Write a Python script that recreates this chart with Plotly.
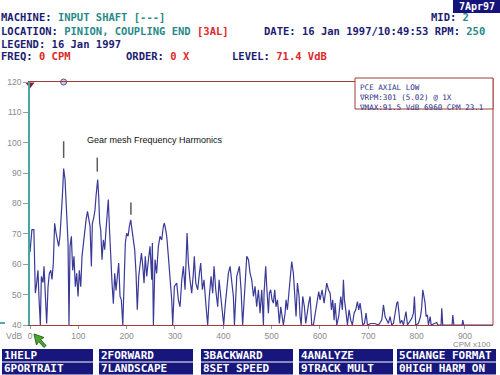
import plotly.graph_objects as go

# ---------------- data (CPM x100, VdB) ----------------
freq_a = [0, 2.5, 4, 8, 9, 10, 11, 13, 16.5, 18.5, 21.4, 23.5, 27, 29, 32, 34.5, 37.3, 40, 43, 45.5,
          48.3, 51, 54, 56.6, 59.3, 62, 65, 67, 68.3, 69.6, 72.5, 74.5, 76.6, 78.7, 80.7, 82.8, 85.6, 88.3, 91, 93.8,
          96.6, 99.4, 102, 105, 107.6, 110.4, 113, 116, 119, 121.5, 124.2, 127, 129, 131.8, 134.5, 136.6, 138.7, 140, 142.1, 144.2,
          146.3, 149, 151.8, 154.6, 157.3, 160, 162, 164.2, 167, 169.7, 172.5, 175.3, 178, 181, 183.5, 186.3, 189, 192, 194.6, 197.3,
          200, 203, 205.6, 208.4, 211, 214, 216.6, 219.4, 222, 225, 228, 230.6, 233.4, 236, 238.5, 241.5]
level_a = [64.0, 70.5, 71.4, 71.4, 63.7, 55, 50.5, 52.6, 58, 49.4, 40, 56, 54, 59.3, 49.4, 40.5, 52.6, 57, 58, 55,
           60.4, 73.5, 70.2, 68, 65.9, 69.2, 75.8, 82.4, 86.8, 91.5, 87.9, 81.3, 72.5, 67, 40, 65.9, 69.2, 58, 62.6, 52.6,
           57, 49.4, 58, 52.6, 62.6, 67, 71.4, 74.6, 77.4, 74.6, 72.5, 59.3, 73.5, 75.2, 77.9, 82.4, 86.8, 87.9, 82.4, 73.5,
           71.4, 61.5, 68, 64.8, 71.4, 78, 81.3, 72.5, 60.4, 53.8, 47, 57, 51.4, 55.8, 60.4, 49.4, 48.3, 40, 53.8, 67,
           70.2, 69.2, 72.5, 74.6, 71.4, 68, 64.8, 57, 45, 56, 60.4, 63.7, 59.3, 53.8, 62.6, 56]

freq_b = [245, 248.4, 251.8, 253.2, 255.3, 258.7, 262, 265.6, 269, 272.5, 276, 278, 280.8, 282.9, 286.3, 289.8, 293.2, 295.3, 298.7, 303.6,
          307, 310.5, 314, 317.4, 320.8, 325, 327.7, 331, 334.6, 338, 340, 343, 347, 350.5, 353.2, 356.7, 360, 364.3, 367.7, 370.5,
          374.6, 378, 380.8, 384.3, 388.4, 391.2, 395.3, 398.8, 400.8, 403.6, 407, 410.5, 414, 417.4, 420.8, 423, 427.8, 433.3, 436.7, 440,
          445, 448.5, 452, 455.4, 458.8, 462.3, 465.7, 469, 472.6, 476, 479.5, 483]
level_b = [61.5, 65.9, 54.9, 67, 40, 61.5, 57, 65.9, 69.2, 68, 72.5, 73.5, 71.4, 69.2, 62.6, 56, 48.3, 40, 52.7, 53.8,
           48.3, 46, 54.9, 59.3, 51.6, 70.3, 60.4, 54.9, 50.5, 57, 62.6, 53.8, 51.6, 57, 60.4, 51.6, 54.9, 46, 40, 48.3,
           56, 50.5, 59.3, 51.6, 46, 54.9, 49.4, 42.8, 40, 46, 51.6, 57, 59.3, 54.9, 49.4, 40, 56, 59.3, 51.6, 40,
           54.9, 62.6, 61.5, 57, 54.9, 49.4, 52.7, 46, 51.6, 43.9, 51.6, 40]

freq_c = [484.3, 487.7, 489.8, 493.3, 495.3, 498, 500.8, 503.6, 506.4, 509, 512, 514, 516, 518.8, 521.5, 524.3, 527.8, 529.8, 532.6, 535.3,
          538, 541.5, 545, 547.8, 550.5, 553.3, 556.7, 558.8, 561, 564.3, 567.8, 570.5, 574, 576.7, 579.5, 583, 586.4, 592, 594.7, 597.4,
          600.2, 604.3, 608.5, 612, 614, 617.5, 621, 623.7, 626.4, 629.2, 631.3, 634.7, 638.8, 643, 646.4, 648.5, 650.6, 653.3, 656.8, 660.2,
          663.7, 667, 670.6, 674, 677.5, 680.2, 683, 685.8, 688.5, 692, 695.4, 698.2]
level_c = [50.5, 59.3, 52.7, 43.9, 50.5, 51.6, 48.3, 47.2, 51.6, 46, 48.3, 43.9, 40.5, 46, 42.8, 40, 43.9, 48.3, 45, 50.5,
           56, 60.9, 57, 48.3, 42.8, 53.8, 49.4, 42.8, 40, 49.4, 46, 40.5, 45, 47.2, 49.4, 40, 40, 45, 48.3, 51,
           48.3, 51.6, 47.2, 52.7, 53.8, 51.6, 50.5, 45, 48.3, 41.6, 47.2, 40, 42.8, 49.4, 45, 54.9, 48.3, 45, 40, 45,
           41.6, 40, 43.9, 45, 47.7, 45, 47.2, 43.9, 40, 40.5, 43.9, 40]

freq_d = [705, 714, 721, 727.8, 731.3, 734.7, 738, 741.6, 745, 748.5, 752, 755.4, 758.9, 761, 763.7, 765.8, 769.2, 772.7, 776, 778,
          781, 786.5, 790, 793.4, 795.4, 798.2, 803.7, 808, 810.6, 812.7, 815.4, 817.5, 819.6, 822.3, 824.4, 828, 830, 841.7, 843.7, 850.6,
          852, 854, 873.4, 874.8, 877, 894, 895.5, 897.5, 958]
level_d = [40.5, 40.5, 40, 41.6, 46.6, 42.8, 41.6, 40.5, 42.8, 40, 40.5, 43.9, 47.2, 47.7, 42.8, 40.5, 41.6, 40, 42.8, 44.4,
           40, 41.6, 42.2, 43.9, 49.4, 40, 40.5, 42.8, 46, 51.6, 49.4, 47.2, 42.8, 43.3, 40, 42.8, 40, 40.8, 40, 40,
           45.5, 40, 40, 43.3, 40, 40, 41.6, 40, 40]

freq = freq_a + freq_b + freq_c + freq_d
level = level_a + level_b + level_c + level_d

harmonics = [69.6, 139.2, 208.8]
harm_bottom = [95.0, 90.5, 76.3]
harm_top = [100.5, 95.1, 80.3]

x_ticks = [0, 100, 200, 300, 400, 500, 600, 700, 800, 900]
y_ticks = [40, 50, 60, 70, 80, 90, 100, 110, 120]

legend_lines = ["PCE AXIAL LOW", "∇RPM:301 (5.02) @ 1X", "∇MAX:91.5 VdB 6960 CPM 23.1"]
keys_row1 = ["1HELP", "2FORWARD", "3BACKWARD", "4ANALYZE", "5CHANGE FORMAT"]
keys_row2 = ["6PORTRAIT", "7LANDSCAPE", "8SET SPEED", "9TRACK MULT", "0HIGH HARM ON"]

# ---------------- geometry helpers ----------------
W, H = 500, 375
L, R, T, B = 30, 7, 82, 50
PW, PH = W - L - R, H - T - B

def px(x):
    return (x - L) / PW

def py(y):
    return (H - B - y) / PH

NAVY = "#1c1c72"
TEAL = "#2a8a8a"
RED = "#e02828"
MAROON = "#a23c3c"
GRAY = "#8a8a8a"
MONO = "DejaVu Sans Mono"

fig = go.Figure()
fig.add_trace(go.Scatter(x=freq, y=level, mode="lines",
                         line=dict(color="#3a3a98", width=1.2), hoverinfo="skip", showlegend=False))
# top markers
fig.add_trace(go.Scatter(x=[0], y=[119.2], mode="markers",
                         marker=dict(symbol="triangle-down", size=8, color="#8e1a3a"),
                         showlegend=False, cliponaxis=False))
fig.add_trace(go.Scatter(x=[harmonics[0]], y=[120], mode="markers",
                         marker=dict(symbol="circle", size=6, color="#d8c8ee", line=dict(color="#6a4a9a", width=1)),
                         showlegend=False, cliponaxis=False))

shapes = []
annotations = []

def ann(x, y, text, color=NAVY, size=10.5, family=MONO, xanchor="left", yanchor="middle"):
    annotations.append(dict(xref="paper", yref="paper", x=px(x), y=py(y), text=text, showarrow=False,
                            xanchor=xanchor, yanchor=yanchor, borderpad=0, align="left",
                            font=dict(family=family, size=size, color=color)))

def span(t, c):
    return f"<span style='color:{c}'>{t}</span>"

# header
ann(0, 17.5, "<b>" + span("MACHINE: ", NAVY) + span("INPUT SHAFT [---]", TEAL) + "</b>")
ann(0, 31, "<b>" + span("LOCATION: ", NAVY) + span("PINION, COUPLING END ", TEAL) + span("[3AL]", RED) + "</b>")
ann(0, 43.5, "<b>LEGEND: 16 Jan 1997</b>")
ann(0, 56, "<b>" + span("FREQ: ", NAVY) + span("0 CPM", RED) + "</b>")
ann(125, 56, "<b>" + span("ORDER: ", NAVY) + span("0 X", RED) + "</b>")
ann(231, 56, "<b>" + span("LEVEL: ", NAVY) + span("71.4 VdB", RED) + "</b>")
ann(430, 17.5, "<b>" + span("MID: ", NAVY) + span("2", TEAL) + "</b>")
ann(263, 31, "<b>" + span("DATE: 16 Jan 1997/10:49:53 RPM: ", NAVY) + span("250", TEAL) + "</b>")

shapes.append(dict(type="rect", xref="paper", yref="paper", x0=px(453), x1=px(500), y0=py(0), y1=py(13),
                   fillcolor="#14147a", line=dict(width=0), layer="above"))
ann(476.5, 6.5, "<b>7Apr97</b>", color="white", size=10, xanchor="center")

# frame right line
shapes.append(dict(type="line", xref="paper", yref="paper", x0=1, x1=1, y0=0, y1=py(78),
                   line=dict(color=MAROON, width=1)))
# small teal dash at far left
shapes.append(dict(type="line", xref="paper", yref="paper", x0=px(0), x1=px(5), y0=py(323), y1=py(323),
                   line=dict(color=TEAL, width=1.5)))

# legend box
shapes.append(dict(type="rect", xref="paper", yref="paper", x0=px(355), x1=px(493), y0=py(109), y1=py(78),
                   fillcolor="white", line=dict(color=MAROON, width=1), layer="above"))
ann(358, 82, "<br>".join(legend_lines), color="#30308a", size=7.6, yanchor="top")

# harmonic markers
for hx, hb, ht in zip(harmonics, harm_bottom, harm_top):
    shapes.append(dict(type="line", xref="x", yref="y", x0=hx, x1=hx, y0=hb, y1=ht,
                       line=dict(color="#5a5a5a", width=1.5)))
ann(86, 140, "Gear mesh Frequency Harmonics", color="#111111", size=9, family="Liberation Sans")

# axis extra labels
ann(23, 336, "VdB", color=GRAY, size=8.5, family="Liberation Sans", xanchor="right")
ann(492, 344, "CPM x100", color=GRAY, size=8, family="Liberation Sans", xanchor="right")

# green mouse cursor
cur = [(34, 334), (44, 337.5), (40.5, 339.5), (46, 345.5), (44, 347.5), (38.5, 341.5), (36.5, 345)]
path = "M " + " L ".join(f"{px(a):.4f},{py(b):.4f}" for a, b in cur) + " Z"
shapes.append(dict(type="path", xref="paper", yref="paper", path=path,
                   fillcolor="#4aa62e", line=dict(color="#2b6a1e", width=1)))

# function-key bar
cols = [(2, 93), (99, 193), (201, 293), (299, 393), (397, 496)]
rows = [(349, 361.5, 355.5, keys_row1), (362.5, 374.5, 368.5, keys_row2)]
for y0, y1, yc, labels in rows:
    for (x0, x1), lab in zip(cols, labels):
        shapes.append(dict(type="rect", xref="paper", yref="paper", x0=px(x0), x1=px(x1), y0=py(y1), y1=py(y0),
                           fillcolor="#16167c", line=dict(width=0)))
        ann(x0 + 1, yc, "<b>" + lab + "</b>", color="white", size=11)

fig.update_layout(
    width=W, height=H,
    margin=dict(l=L, r=R, t=T, b=B, pad=0),
    paper_bgcolor="white", plot_bgcolor="white",
    showlegend=False,
    shapes=shapes, annotations=annotations,
    xaxis=dict(range=[0, 958], showline=True, linecolor=MAROON, linewidth=1, mirror=True,
               ticks="outside", ticklen=3, tickcolor="#9a9a9a", tickvals=x_ticks,
               ticktext=[str(v) for v in x_ticks],
               tickfont=dict(family="Liberation Sans", size=8.5, color=GRAY),
               showgrid=False, zeroline=False, fixedrange=True),
    yaxis=dict(range=[40, 120], showline=True, linecolor="#45a6a6", linewidth=1.5,
               ticks="outside", ticklen=5, tickcolor="#9a9a9a", tickvals=y_ticks,
               ticktext=[str(v) for v in y_ticks],
               tickfont=dict(family="Liberation Sans", size=8.5, color=GRAY),
               showgrid=False, zeroline=False, fixedrange=True),
)

fig.write_html("out.html", config={"displayModeBar": False},
               post_script="document.body.style.margin='0px';document.body.style.overflow='hidden';")
